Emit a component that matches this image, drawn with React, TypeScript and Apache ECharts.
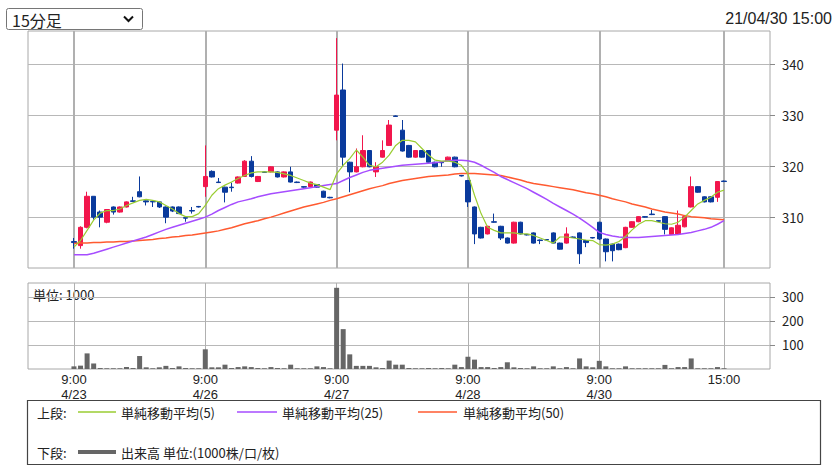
import React, { useEffect, useRef } from 'react';
import * as echarts from 'echarts';

const days = ['4/23', '4/26', '4/27', '4/28', '4/30'];
const times = ['9:00', '9:15', '9:30', '9:45', '10:00', '10:15', '10:30', '10:45', '11:00', '11:15',
  '12:45', '13:00', '13:15', '13:30', '13:45', '14:00', '14:15', '14:30', '14:45', '15:00'];

// [open, close, low, high]
const candles: number[][] = [
  [305.2, 305.0, 303.8, 305.9], [304.4, 308.0, 303.8, 308.2], [308.0, 314.1, 307.8, 315.0], [314.1, 310.0, 309.5, 314.1],
  [311.0, 310.0, 308.0, 311.3], [309.0, 311.5, 308.8, 311.6], [312.0, 311.0, 310.5, 312.1], [311.0, 312.0, 310.9, 312.1],
  [312.0, 313.0, 311.9, 313.1], [313.2, 313.1, 313.0, 314.0], [315.0, 314.0, 313.9, 318.0], [313.2, 313.0, 312.3, 313.3],
  [313.1, 313.0, 312.0, 313.2], [313.0, 312.0, 311.8, 313.1], [312.0, 310.0, 308.8, 312.1], [312.0, 311.2, 311.0, 312.1],
  [312.0, 310.7, 310.6, 312.1], [309.9, 309.8, 309.1, 310.0], [311.3, 311.2, 310.7, 312.0], [312.1, 312.0, 311.9, 312.2],
  [316.0, 318.0, 314.0, 324.1], [319.0, 317.9, 317.8, 319.2], [316.9, 316.8, 316.7, 317.7], [315.9, 314.9, 312.9, 316.0],
  [315.9, 315.8, 315.0, 316.8], [316.7, 317.9, 316.6, 318.0], [318.0, 321.0, 317.9, 321.2], [321.0, 318.0, 317.8, 322.0],
  [317.0, 318.0, 316.9, 318.1], [318.9, 318.8, 318.7, 319.0], [318.9, 319.9, 318.8, 320.0], [318.9, 317.9, 317.8, 319.0],
  [317.9, 318.9, 317.8, 319.0], [318.9, 316.9, 316.8, 319.9], [316.9, 316.8, 316.7, 317.0], [316.0, 315.9, 315.8, 316.0],
  [316.0, 316.9, 315.9, 317.0], [316.4, 315.9, 315.8, 316.5], [315.1, 313.9, 313.8, 315.2], [313.9, 313.8, 313.7, 314.0],
  [327.1, 334.0, 325.1, 345.2], [335.0, 321.8, 319.9, 340.2], [320.8, 318.9, 314.9, 320.9], [318.9, 319.9, 318.8, 323.5],
  [319.9, 323.1, 319.8, 326.1], [323.1, 319.9, 319.8, 323.2], [318.9, 319.9, 317.9, 320.8], [321.8, 323.1, 321.7, 325.1],
  [324.1, 328.1, 324.0, 329.1], [329.9, 329.8, 329.7, 330.0], [327.1, 323.0, 322.9, 329.1], [324.1, 321.8, 321.7, 324.2],
  [321.8, 323.1, 321.7, 323.2], [323.1, 321.8, 321.7, 323.2], [323.1, 320.8, 320.7, 323.2], [320.8, 319.9, 319.8, 320.9],
  [320.8, 320.7, 319.9, 320.9], [321.1, 321.8, 321.0, 321.9], [321.8, 319.9, 319.8, 321.9], [318.2, 318.1, 318.0, 318.3],
  [317.2, 313.0, 312.0, 317.3], [312.0, 306.7, 304.7, 312.1], [308.0, 305.9, 305.8, 308.1], [306.7, 308.2, 306.6, 308.3],
  [309.1, 309.0, 308.9, 310.7], [308.2, 305.9, 305.5, 308.3], [305.9, 304.9, 304.8, 306.0], [304.9, 309.0, 304.8, 309.1],
  [309.0, 306.7, 306.6, 309.1], [306.6, 306.5, 306.4, 306.7], [306.9, 304.9, 304.8, 307.0], [305.5, 305.4, 304.7, 305.6],
  [305.6, 305.5, 305.4, 305.7], [306.9, 304.9, 304.8, 307.0], [304.9, 303.7, 303.6, 305.0], [304.9, 306.7, 304.8, 308.0],
  [306.1, 306.0, 305.9, 306.2], [306.9, 302.8, 300.8, 307.0], [305.4, 305.0, 304.1, 305.5], [306.0, 305.9, 305.8, 306.1],
  [309.0, 305.7, 305.5, 309.1], [305.7, 303.2, 301.3, 305.8], [304.7, 303.4, 301.3, 304.8], [304.7, 303.6, 303.5, 304.8],
  [304.0, 308.0, 303.9, 308.1], [308.0, 309.1, 307.9, 309.2], [309.1, 310.1, 309.0, 310.2], [310.1, 310.0, 309.9, 310.2],
  [310.6, 310.5, 310.4, 311.4], [309.3, 309.2, 309.1, 309.4], [310.1, 307.6, 306.6, 310.2], [306.6, 307.9, 306.5, 308.0],
  [306.7, 308.4, 306.6, 311.3], [308.1, 310.1, 308.0, 310.2], [312.0, 316.0, 311.9, 318.0], [316.0, 314.9, 314.8, 316.1],
  [314.0, 313.0, 312.9, 314.1], [314.0, 313.0, 312.9, 314.1], [313.9, 317.0, 313.0, 317.1], [317.1, 317.0, 316.9, 317.2],
];

const volumes = [
  11, 14, 65, 23, 4, 3, 3, 3, 8, 4, 54, 7, 3, 7, 13, 4, 11, 4, 3, 3,
  82, 7, 7, 18, 4, 8, 11, 8, 4, 3, 8, 4, 3, 18, 3, 3, 3, 11, 8, 3,
  338, 166, 61, 13, 13, 13, 7, 4, 35, 18, 18, 4, 3, 3, 4, 3, 4, 3, 18, 8,
  51, 39, 8, 8, 4, 8, 28, 7, 4, 3, 11, 3, 3, 11, 3, 8, 3, 44, 11, 7,
  34, 11, 3, 3, 11, 3, 3, 3, 3, 3, 17, 3, 8, 8, 44, 3, 3, 3, 8, 3,
];

const ma5 = [
  304.1, 305.4, 307.4, 309.4, 310.8, 311.3, 311.3, 311.6, 312.3, 312.8,
  313.3, 313.5, 313.3, 313.0, 312.3, 311.6, 310.7, 310.1, 310.1, 310.7,
  312.3, 314.3, 315.6, 316.3, 316.9, 317.6, 318.2, 318.7, 318.9, 318.9,
  318.9, 318.8, 318.5, 318.2, 317.7, 317.2, 316.7, 316.4, 315.9, 315.4,
  318.5, 320.2, 321.5, 323.2, 321.8, 320.2, 319.9, 320.8, 322.2, 324.1,
  325.1, 325.1, 324.8, 323.5, 322.2, 321.2, 321.0, 321.0, 320.8, 320.2,
  318.5, 314.3, 310.7, 308.0, 307.4, 306.9, 306.9, 306.9, 306.7, 306.7,
  306.4, 305.9, 305.4, 304.9, 306.1, 306.1, 305.9, 305.7, 305.5, 305.4,
  304.6, 304.5, 304.7, 305.2, 306.2, 307.5, 308.6, 309.3, 309.3, 309.0,
  308.7, 308.6, 309.0, 310.0, 311.3, 312.6, 313.3, 313.9, 314.9, 315.3,
];

const ma25 = [
  302.6, 302.6, 302.6, 302.9, 303.3, 303.7, 304.1, 304.5, 304.9, 305.3,
  305.7, 306.1, 306.6, 307.1, 307.6, 308.0, 308.4, 308.8, 309.2, 309.6,
  310.0, 310.6, 311.3, 311.9, 312.5, 313.0, 313.3, 313.6, 314.0, 314.3,
  314.6, 314.8, 315.0, 315.2, 315.4, 315.6, 315.8, 316.0, 316.2, 316.4,
  316.6, 317.2, 317.8, 318.3, 318.8, 319.2, 319.4, 319.6, 319.8, 320.0,
  320.2, 320.3, 320.4, 320.5, 320.6, 320.7, 320.9, 321.1, 321.2, 321.2,
  321.1, 320.8, 320.2, 319.5, 318.8, 318.0, 317.4, 316.8, 316.2, 315.6,
  314.9, 314.2, 313.5, 312.7, 312.0, 311.3, 310.6, 309.8, 308.9, 308.0,
  307.0, 306.6, 306.3, 306.1, 306.0, 306.0, 306.0, 306.1, 306.2, 306.3,
  306.4, 306.5, 306.6, 306.8, 307.0, 307.3, 307.6, 308.0, 308.6, 309.3,
];

const ma50 = [
  304.8, 304.9, 304.9, 305.0, 305.0, 305.1, 305.1, 305.2, 305.2, 305.3,
  305.4, 305.5, 305.6, 305.8, 305.9, 306.1, 306.2, 306.4, 306.5, 306.7,
  306.9, 307.1, 307.3, 307.6, 307.9, 308.3, 308.7, 309.0, 309.3, 309.7,
  310.0, 310.4, 310.8, 311.2, 311.6, 312.0, 312.3, 312.6, 312.9, 313.3,
  313.6, 314.0, 314.4, 314.8, 315.2, 315.6, 315.9, 316.2, 316.6, 316.9,
  317.2, 317.4, 317.6, 317.8, 318.0, 318.1, 318.2, 318.3, 318.5, 318.6,
  318.6, 318.6, 318.5, 318.4, 318.3, 318.2, 317.9, 317.6, 317.3, 316.9,
  316.6, 316.4, 316.2, 316.0, 315.8, 315.6, 315.4, 315.1, 314.8, 314.6,
  314.3, 314.0, 313.6, 313.3, 313.0, 312.6, 312.3, 312.0, 311.6, 311.3,
  311.0, 310.8, 310.6, 310.3, 310.1, 310.0, 309.9, 309.7, 309.6, 309.5,
];

const priceTicks = [310, 320, 330, 340];
const volumeTicks = [100, 200, 300];
const headerDate = '21/04/30 15:00';
const selectLabel = '15分足';
const volumeUnit = '単位: 1000';
const legendUpper = '上段:';
const legendLower = '下段:';
const legendNames = ['単純移動平均(5)', '単純移動平均(25)', '単純移動平均(50)'];
const volumeLegend = '出来高 単位:(1000株/口/枚)';

const PAD = 7;
const UP = '#f2164c';
const DOWN = '#0a3a9c';
const C5 = '#9acd32';
const C25 = '#a64dff';
const C50 = '#ff5a30';
const FONT = '"Noto Sans CJK JP", "Noto Sans", sans-serif';
const LATIN = '"Liberation Sans", Arial, sans-serif';

export default function App() {
  const ref = useRef<HTMLDivElement>(null);
  useEffect(() => {
    const chart = echarts.init(ref.current!, null, { renderer: 'svg' });
    const cats: string[] = [];
    for (let k = 0; k < PAD; k++) cats.push('pre' + k);
    days.forEach((d) => times.forEach((t) => cats.push(d + ' ' + t)));
    for (let k = 0; k < PAD; k++) cats.push('post' + k);
    const total = days.length * times.length;
    const padArr = (a: any[], empty: any) => [
      ...Array(PAD).fill(empty), ...a, ...Array(PAD).fill(empty),
    ];
    const isGrid = (idx: number) => {
      const i = idx - PAD;
      return i >= 0 && i < total && (i % times.length === 0 || i === total - 1);
    };
    const labelFor = (idx: number) => {
      const i = idx - PAD;
      if (i < 0 || i >= total) return '';
      const d = Math.floor(i / times.length);
      const t = i % times.length;
      if (t === 0) return times[0] + '\n' + days[d];
      if (i === total - 1) return times[t];
      return '';
    };
    const gridBorder = { show: true, borderColor: '#a8a8a8', borderWidth: 1, backgroundColor: '#fff' };
    const txt = (x: number, y: number, text: string, size = 12, align = 'left') => ({
      type: 'text', x, y, silent: true,
      style: { text, fontSize: size, fontFamily: FONT, fill: '#222', align, verticalAlign: 'middle' },
    });
    const seg = (x1: number, x2: number, y: number, color: string, w: number) => ({
      type: 'line', silent: true, shape: { x1, y1: y, x2, y2: y }, style: { stroke: color, lineWidth: w },
    });
    chart.setOption({
      animation: false,
      textStyle: { fontFamily: FONT },
      grid: [
        { left: 28, top: 31, width: 742, height: 237, ...gridBorder },
        { left: 28, top: 283, width: 742, height: 86, ...gridBorder },
      ],
      xAxis: [0, 1].map((g) => ({
        gridIndex: g,
        type: 'category',
        data: cats,
        boundaryGap: false,
        axisLine: { show: false },
        axisTick: { show: false },
        axisLabel: g === 1 ? {
          show: true,
          interval: (idx: number) => isGrid(idx),
          formatter: (_v: string, idx: number) => labelFor(idx),
          margin: 3,
          color: '#222', fontSize: 13, lineHeight: 15, fontFamily: LATIN,
        } : { show: false },
        splitLine: {
          show: true,
          interval: (idx: number) => isGrid(idx),
          lineStyle: { color: '#b0b0b0', width: g === 0 ? 2 : 1 },
        },
      })),
      yAxis: [
        {
          gridIndex: 0, type: 'value', position: 'right', min: 300, max: 346.6, interval: 10,
          axisLine: { show: false },
          axisTick: { show: true, length: 5, customValues: priceTicks, lineStyle: { color: '#888' } },
          axisLabel: { customValues: priceTicks, color: '#222', fontSize: 13, margin: 12, fontFamily: FONT },
          splitLine: { show: true, lineStyle: { color: '#b8b8b8', width: 1 } },
        },
        {
          gridIndex: 1, type: 'value', position: 'right', min: 0, max: 358, interval: 100,
          axisLine: { show: false },
          axisTick: { show: true, length: 5, customValues: volumeTicks, lineStyle: { color: '#888' } },
          axisLabel: { customValues: volumeTicks, color: '#222', fontSize: 13, margin: 12, fontFamily: FONT },
          splitLine: { show: true, lineStyle: { color: '#b8b8b8', width: 1 } },
        },
      ],
      series: [
        {
          type: 'candlestick', xAxisIndex: 0, yAxisIndex: 0, barWidth: 5,
          data: padArr(candles, ['-', '-', '-', '-']),
          itemStyle: { color: UP, color0: DOWN, borderColor: UP, borderColor0: DOWN, borderWidth: 1 },
        },
        {
          type: 'line', xAxisIndex: 0, yAxisIndex: 0, data: padArr(ma50, '-'), symbol: 'none',
          lineStyle: { color: C50, width: 1.5 },
        },
        {
          type: 'line', xAxisIndex: 0, yAxisIndex: 0, data: padArr(ma25, '-'), symbol: 'none',
          lineStyle: { color: C25, width: 1.5 },
        },
        {
          type: 'line', xAxisIndex: 0, yAxisIndex: 0, data: padArr(ma5, '-'), symbol: 'none',
          lineStyle: { color: C5, width: 1.2 },
        },
        {
          type: 'bar', xAxisIndex: 1, yAxisIndex: 1, barWidth: 5,
          data: padArr(volumes, '-'), itemStyle: { color: '#666' },
        },
      ],
      graphic: [
        { type: 'rect', silent: true, shape: { x: 6.5, y: 8.5, width: 136, height: 21, r: 2 },
          style: { fill: '#fff', stroke: '#767676', lineWidth: 1 } },
        txt(12, 19.5, selectLabel, 16),
        { type: 'polyline', silent: true, shape: { points: [[124, 16.5], [128.5, 21], [133, 16.5]] },
          style: { stroke: '#111', lineWidth: 2, fill: 'none' } },
        { type: 'text', x: 832, y: 18, silent: true,
          style: { text: headerDate, fontSize: 16, fontFamily: LATIN, fill: '#222', align: 'right', verticalAlign: 'middle' } },
        txt(33, 294, volumeUnit, 13),
        { type: 'rect', silent: true, shape: { x: 27.5, y: 400.5, width: 793, height: 64 },
          style: { fill: 'none', stroke: '#444', lineWidth: 1.2 } },
        txt(37, 412, legendUpper, 13),
        seg(78, 116, 412, C5, 1.5),
        txt(121, 412, legendNames[0], 13),
        seg(237, 277, 412, C25, 1.5),
        txt(282, 412, legendNames[1], 13),
        seg(418, 457, 412, C50, 1.5),
        txt(463, 412, legendNames[2], 13),
        txt(37, 452, legendLower, 13),
        seg(78, 116, 452, '#666', 4),
        txt(121, 452, volumeLegend, 13),
      ],
    });
    return () => chart.dispose();
  }, []);
  return <div ref={ref} style={{ position: 'absolute', left: 0, top: 0, width: 838, height: 471, background: '#fff' }} />;
}
